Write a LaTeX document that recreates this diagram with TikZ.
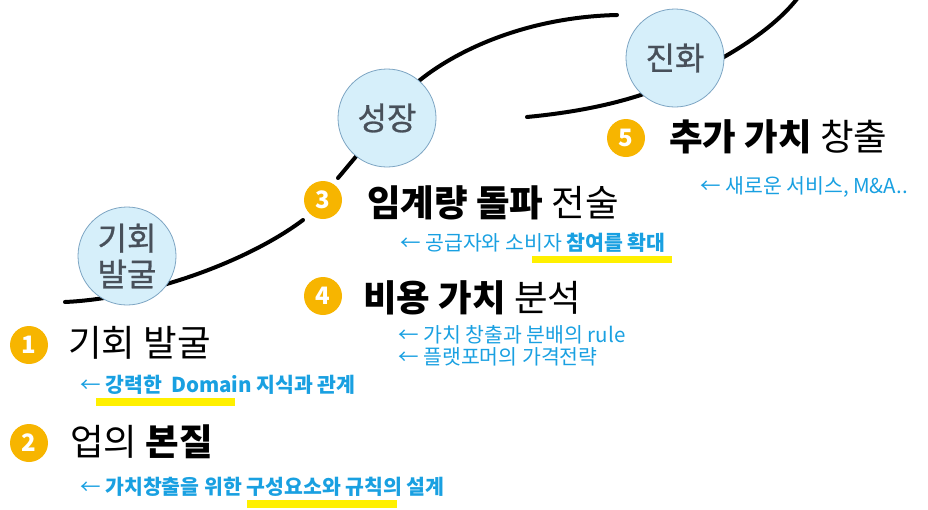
\documentclass[tikz,border=0pt]{standalone}
\usepackage{fontspec}
\setmainfont{Noto Sans CJK KR}
\newfontfamily\stagefont[FakeBold=0.8]{Noto Sans CJK KR}
\definecolor{stagefill}{RGB}{214,239,250}
\definecolor{stageedge}{RGB}{125,165,195}
\definecolor{stagetext}{RGB}{72,80,90}
\definecolor{badgeorange}{RGB}{247,181,0}
\definecolor{noteblue}{RGB}{25,160,225}
\definecolor{hlyellow}{RGB}{255,240,0}
\begin{document}
\begin{tikzpicture}[x=1pt,y=-1pt,
  curve/.style={line width=4pt,line cap=round},
  stage/.style={circle,fill=stagefill,draw=stageedge,line width=0.8pt,minimum size=98pt,inner sep=0pt,text=stagetext,font=\stagefont\fontsize{32}{36}\selectfont,align=center},
  badge/.style={circle,fill=badgeorange,minimum size=38pt,inner sep=0pt,text=white,font=\bfseries\fontsize{24}{24}\selectfont},
  title/.style={anchor=west,inner sep=0pt,font=\fontsize{36.5}{42}\selectfont},
  note/.style={anchor=west,inner sep=0pt,text=noteblue,font=\fontsize{20.5}{24}\selectfont},
  hl/.style={fill=hlyellow}]
\useasboundingbox (0,0) rectangle (928,509);
% highlight bars
\fill[hl] (96,398) rectangle (235,406);
\fill[hl] (247,500) rectangle (397,508);
\fill[hl] (532,256) rectangle (672,263);
% growth curve
\draw[curve] (65,302) .. controls (150,298) and (250,260) .. (303,220);
\draw[curve] (338,178) -- (420,80) .. controls (460,48) and (530,17) .. (617,15);
\draw[curve] (527,117) .. controls (600,110) and (650,95) .. (690,75)
  .. controls (745,48) and (780,22) .. (800,-5);
% stage circles
\node[stage] (s1) at (127,256) {기회\\발굴};
\node[stage] (s2) at (387,118) {성장};
\node[stage] (s3) at (675,58) {진화};
% badges
\node[badge] (b1) at (29,345) {1};
\node[badge] (b2) at (29,443) {2};
\node[badge] (b3) at (323,200) {3};
\node[badge] (b4) at (323,296) {4};
\node[badge] (b5) at (626,138) {5};
% titles
\node[title] (t1) at (68,343) {기회 발굴};
\node[title] (t2) at (70,442) {업의 \textbf{본질}};
\node[title] (t3) at (367,203) {\textbf{임계량 돌파} 전술};
\node[title] (t4) at (363,298) {\textbf{비용 가치} 분석};
\node[title] (t5) at (669,137) {\textbf{추가 가치} 창출};
% notes
\node[note] (n1) at (80,385) {← \textbf{강력한\ \ Domain 지식과 관계}};
\node[note] (n2) at (80,487) {← \textbf{가치창출을 위한 구성요소와 규칙의 설계}};
\node[note] (n3) at (400,243) {← 공급자와 소비자 \textbf{참여를 확대}};
\node[note] (n4) at (398,335) {← 가치 창출과 분배의 rule};
\node[note] (n5) at (398,357) {← 플랫포머의 가격전략};
\node[note] (n6) at (700,187) {← 새로운 서비스, M\&A..};
\end{tikzpicture}
\end{document}
